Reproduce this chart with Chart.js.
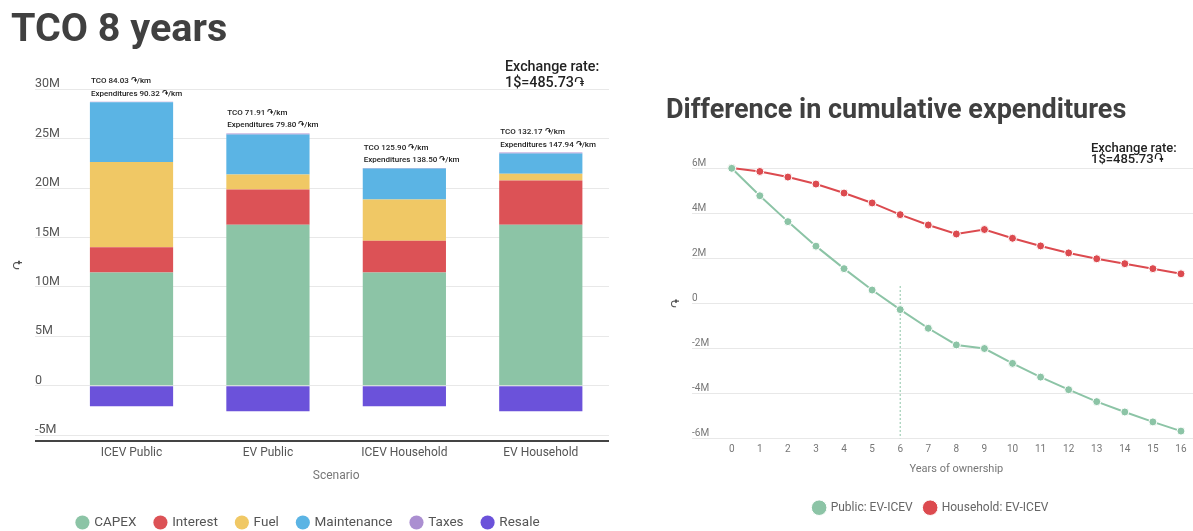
<!DOCTYPE html>
<html>
<head>
<meta charset="utf-8">
<script src="https://cdn.jsdelivr.net/npm/chart.js@4.4.1/dist/chart.umd.min.js"></script>
<style>
  html, body { margin: 0; padding: 0; background: #fff; overflow: hidden; }
  #page { position: relative; width: 1193px; height: 531px; overflow: hidden; background: #fff;
          font-family: Roboto, "DejaVu Sans", sans-serif; }
  canvas { position: absolute; top: 0; }
  .txt { position: absolute; white-space: nowrap; z-index: 2; }
  #tcoTitle { left: 11px; top: 8.4px; font-size: 39.5px; line-height: 39.5px; font-weight: 700; color: #404040; }
  #diffTitle { left: 666px; top: 96px; font-size: 27px; line-height: 27px; font-weight: 700; color: #404040; }
  #fxLeft { left: 505px; top: 58px; font-size: 14.3px; line-height: 16px; font-weight: 500; color: #222; }
  #fxRight { left: 1091px; top: 141.7px; font-size: 13px; line-height: 11px; font-weight: 500; color: #222; }
</style>
</head>
<body>
<div id="page">
  <canvas id="tco" width="630" height="550" style="left:0"></canvas>
  <canvas id="diff" width="570" height="531" style="left:630px"></canvas>
  <div class="txt" id="tcoTitle">TCO 8 years</div>
  <div class="txt" id="fxLeft">Exchange rate:<br>1$=485.73֏</div>
  <div class="txt" id="diffTitle">Difference in cumulative expenditures</div>
  <div class="txt" id="fxRight">Exchange rate:<br>1$=485.73֏</div>
</div>
<script>
// ---- Total cost of ownership over 8 years, by scenario (amounts in ֏) ----
const SCENARIOS = ['ICEV Public', 'EV Public', 'ICEV Household', 'EV Household'];
const CAPEX       = [11460000, 16300000, 11460000, 16300000];
const INTEREST    = [2540000, 3560000, 3220000, 4470000];
const FUEL        = [8640000, 1520000, 4170000, 680000];
const MAINTENANCE = [6050000, 4050000, 3130000, 2050000];
const TAXES       = [50000, 100000, 50000, 100000];
const RESALE      = [-2080000, -2600000, -2080000, -2600000];
const TCO_PER_KM          = ['84.03', '71.91', '125.90', '132.17'];
const EXPENDITURES_PER_KM = ['90.32', '79.80', '138.50', '147.94'];
const TCO_TICKS = [-5000000, 0, 5000000, 10000000, 15000000, 20000000, 25000000, 30000000];
const TCO_MIN = -5600000;
const TCO_MAX = 30000000;

// ---- Difference in cumulative expenditures, EV minus ICEV (amounts in ֏) ----
const YEARS = ['0','1','2','3','4','5','6','7','8','9','10','11','12','13','14','15','16'];
const PUBLIC_DIFF = [6000000, 4780000, 3630000, 2540000, 1540000, 590000, -280000, -1110000,
                     -1850000, -2010000, -2670000, -3280000, -3840000, -4370000, -4830000, -5270000, -5680000];
const HOUSEHOLD_DIFF = [6010000, 5860000, 5610000, 5300000, 4900000, 4460000, 3940000, 3480000,
                        3080000, 3280000, 2890000, 2550000, 2240000, 1980000, 1760000, 1540000, 1310000];
const BREAK_EVEN_YEAR = '6';
const BREAK_EVEN_SPAN = [770000, -6000000];
const DIFF_TICKS = [-6000000, -4000000, -2000000, 0, 2000000, 4000000, 6000000];

const COLORS = {
  capex: '#8cc4a6', interest: '#dc5256', fuel: '#f0c865',
  maintenance: '#5bb4e4', taxes: '#ab8fd1', resale: '#6b52da',
  publicLine: '#8cc4a6', householdLine: '#dc4a4f'
};

Chart.defaults.font.family = 'Roboto, "DejaVu Sans", sans-serif';
Chart.defaults.animation = false;

const millions = v => v === 0 ? '0' : (v / 1000000) + 'M';

// Moves the y-axis labels/title to a fixed x after layout, so the labels
// sit left-aligned over the extended grid ticks.
const axisInset = (x) => ({
  id: 'axisInset',
  afterLayout(chart) { chart.scales.y.left = x; }
});

// Per-km summary written above each stacked bar.
const barNotes = {
  id: 'barNotes',
  afterDatasetsDraw(chart) {
    const { ctx } = chart;
    const y = chart.scales.y;
    const bars = chart.getDatasetMeta(0).data;
    ctx.save();
    ctx.fillStyle = '#222';
    ctx.font = '500 8px Roboto, "DejaVu Sans", sans-serif';
    ctx.textAlign = 'left';
    ctx.textBaseline = 'middle';
    SCENARIOS.forEach((_, i) => {
      const total = chart.data.datasets.reduce((s, d) => s + Math.max(0, d.data[i]), 0);
      const top = y.getPixelForValue(total);
      const { x, width } = bars[i].getProps(['x', 'width'], true);
      const left = x - width / 2 + 1;
      ctx.fillText('TCO ' + TCO_PER_KM[i] + ' ֏/km', left, top - 20.3);
      ctx.fillText('Expenditures ' + EXPENDITURES_PER_KM[i] + ' ֏/km', left, top - 8);
    });
    ctx.restore();
  }
};

new Chart(document.getElementById('tco'), {
  type: 'bar',
  data: {
    labels: SCENARIOS,
    datasets: [
      { label: 'CAPEX', data: CAPEX, backgroundColor: COLORS.capex },
      { label: 'Interest', data: INTEREST, backgroundColor: COLORS.interest },
      { label: 'Fuel', data: FUEL, backgroundColor: COLORS.fuel },
      { label: 'Maintenance', data: MAINTENANCE, backgroundColor: COLORS.maintenance },
      { label: 'Taxes', data: TAXES, backgroundColor: COLORS.taxes },
      { label: 'Resale', data: RESALE, backgroundColor: COLORS.resale }
    ]
  },
  options: {
    responsive: false,
    devicePixelRatio: 1,
    layout: { padding: { left: 8, right: 21, top: 89.3, bottom: 10.7 } },
    datasets: { bar: { categoryPercentage: 1, barPercentage: 0.61, borderWidth: 0 } },
    scales: {
      x: {
        stacked: true,
        grid: { display: false, drawTicks: false },
        border: { display: false },
        ticks: { color: '#555', font: { size: 12 }, padding: 5 },
        title: { display: true, text: 'Scenario', color: '#777', font: { size: 12 }, padding: { top: 3, bottom: 14 } }
      },
      y: {
        stacked: true,
        min: TCO_MIN,
        max: TCO_MAX,
        afterBuildTicks: s => { s.ticks = [TCO_MIN, ...TCO_TICKS].map(v => ({ value: v })); },
        afterFit: s => { s.width = 55.3; },
        border: { display: false },
        grid: {
          color: c => (c.tick && c.tick.value === TCO_MIN) ? '#444' : '#e8e8e8',
          lineWidth: c => (c.tick && c.tick.value === TCO_MIN) ? 2 : 1,
          tickLength: 28.3
        },
        ticks: {
          crossAlign: 'far', labelOffset: -5, padding: 0, color: '#555', font: { size: 12.5 },
          callback: v => v === TCO_MIN ? '' : millions(v)
        },
        title: { display: true, text: '֏', color: '#555', font: { size: 13 }, padding: { top: -23, bottom: 0 } }
      }
    },
    plugins: {
      legend: {
        position: 'bottom',
        labels: { usePointStyle: true, pointStyle: 'circle', boxWidth: 10, boxHeight: 10, padding: 19, color: '#555', font: { size: 13.5 } }
      },
      tooltip: { enabled: false }
    }
  },
  plugins: [barNotes, axisInset(35)]
});

new Chart(document.getElementById('diff'), {
  type: 'line',
  data: {
    labels: YEARS,
    datasets: [
      { label: 'Public: EV-ICEV', data: PUBLIC_DIFF, borderColor: COLORS.publicLine, backgroundColor: COLORS.publicLine,
        borderWidth: 2, pointRadius: 4, pointBorderColor: '#fff', pointBorderWidth: 1, clip: false },
      { label: 'Household: EV-ICEV', data: HOUSEHOLD_DIFF, borderColor: COLORS.householdLine, backgroundColor: COLORS.householdLine,
        borderWidth: 2, pointRadius: 4, pointBorderColor: '#fff', pointBorderWidth: 1, clip: false },
      { label: 'break-even', data: BREAK_EVEN_SPAN.map(v => ({ x: BREAK_EVEN_YEAR, y: v })),
        borderColor: COLORS.publicLine, borderWidth: 1, borderDash: [2, 2], pointRadius: 0, clip: false }
    ]
  },
  options: {
    responsive: false,
    devicePixelRatio: 1,
    layout: { padding: { left: 36.9, right: 4.9, top: 168.3, bottom: 7.3 } },
    scales: {
      x: {
        offset: true,
        grid: { display: false, drawTicks: false },
        border: { display: false },
        ticks: { color: '#777', font: { size: 10 }, padding: 5, maxRotation: 0, autoSkip: false },
        title: { display: true, text: 'Years of ownership', color: '#777', font: { size: 11 }, padding: { top: 2.2, bottom: 14 } }
      },
      y: {
        min: DIFF_TICKS[0],
        max: DIFF_TICKS[DIFF_TICKS.length - 1],
        afterBuildTicks: s => { s.ticks = DIFF_TICKS.map(v => ({ value: v })); },
        afterFit: s => { s.width = 50.8; },
        border: { display: false },
        grid: { color: '#e8e8e8', lineWidth: 1, tickLength: 25.7 },
        ticks: { crossAlign: 'far', labelOffset: -4.7, padding: 0, color: '#777', font: { size: 10 }, callback: v => millions(v) },
        title: { display: true, text: '֏', color: '#555', font: { size: 12 }, padding: { top: -22.5, bottom: 0 } }
      }
    },
    plugins: {
      legend: {
        position: 'bottom',
        labels: { usePointStyle: true, pointStyle: 'circle', boxWidth: 11, boxHeight: 11, padding: 12, color: '#666', font: { size: 12 },
                  filter: item => item.datasetIndex < 2 }
      },
      tooltip: { enabled: false }
    }
  },
  plugins: [axisInset(62)]
});
</script>
</body>
</html>
